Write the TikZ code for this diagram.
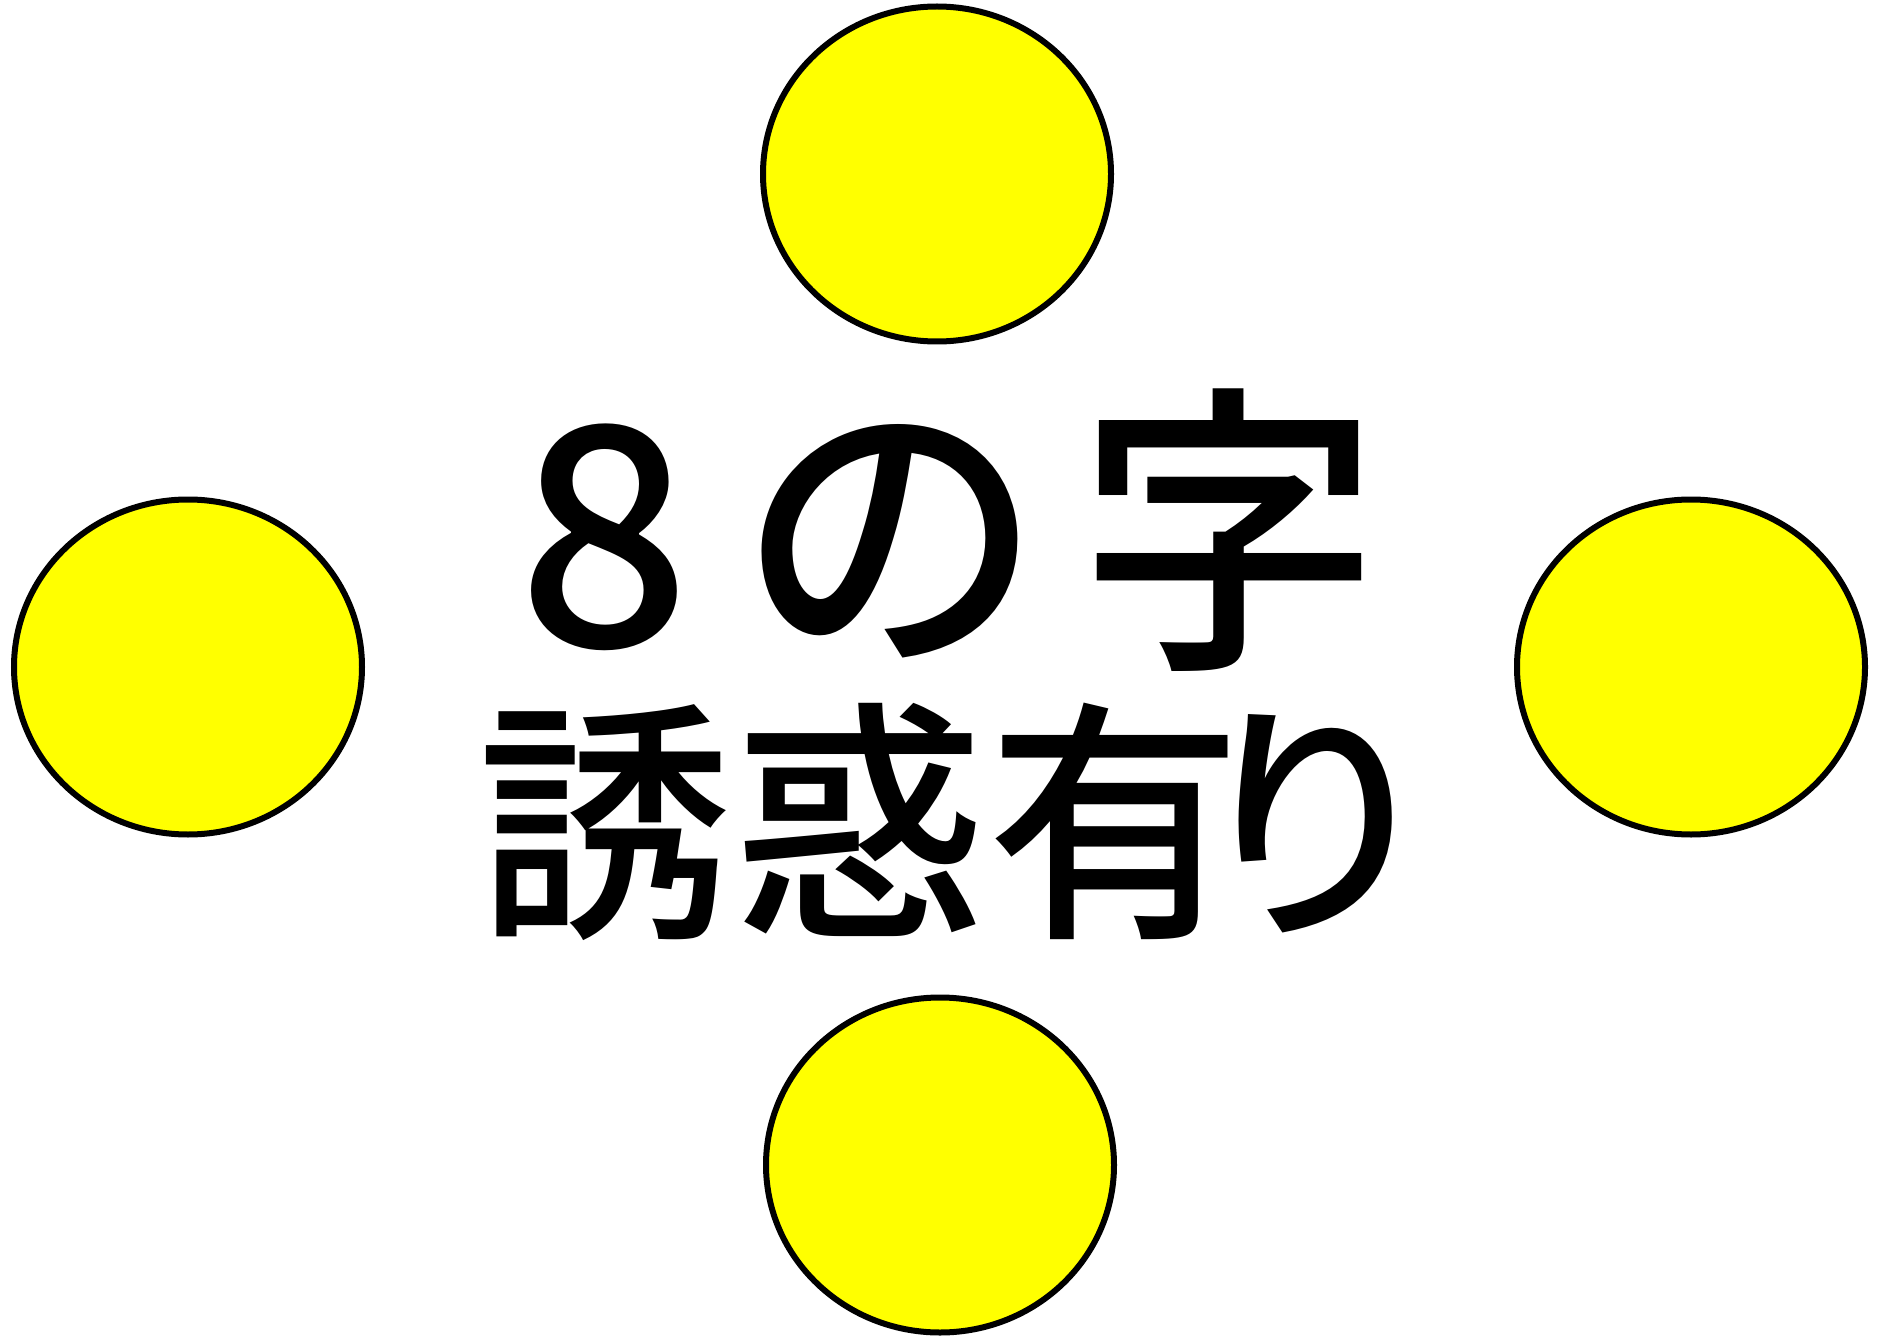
\documentclass[tikz,border=0pt]{standalone}
\usepackage{fontspec}
\newfontfamily\jpfont{Noto Sans CJK JP}[UprightFont={* Medium}]
\usetikzlibrary{shapes.geometric,positioning}
\definecolor{spotyellow}{RGB}{255,255,0}

\begin{document}
\begin{tikzpicture}
	[ x=1pt, y=-1pt,
		spot/.style={ellipse,draw=black,fill=spotyellow,line width=6pt,inner sep=0pt,minimum width=348pt,minimum height=335pt},
		title/.style={anchor=base west,inner sep=0pt,font=\jpfont\fontsize{305}{305}\selectfont},
		subtitle/.style={anchor=base west,inner sep=0pt,font=\jpfont\fontsize{255}{255}\selectfont}]

	\useasboundingbox (0,0) rectangle (1879,1337);

	% the four spots
	\node[spot] (top spot)    at (937,174)  {};
	\node[spot] (left spot)   at (188,667)  {};
	\node[spot] (right spot)  at (1691,667) {};
	\node[spot] (bottom spot) at (940,1165) {};

	% the words in the middle
	\node[title]    (figure eight) at (517,646) {8\hspace{48pt}の\hspace{33pt}字};
	\node[subtitle] (temptation)   at (477,918) {誘惑有\kern-55pt り};
\end{tikzpicture}
\end{document}
